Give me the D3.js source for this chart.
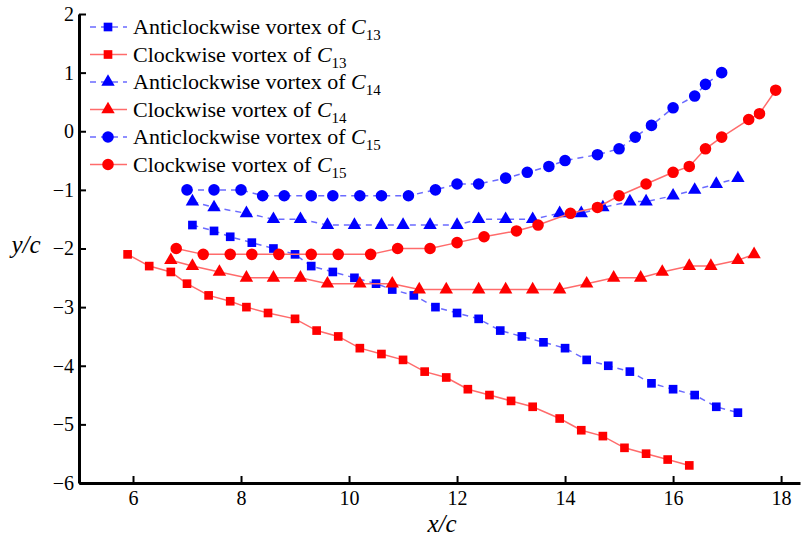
<!DOCTYPE html>
<html>
<head>
<meta charset="utf-8">
<script src="https://cdn.jsdelivr.net/npm/d3@7"></script>
<style>
  body { margin: 0; background: #fff; }
  svg text { font-family: "Liberation Serif", "Times New Roman", serif; }
</style>
</head>
<body>
<div class="canvas"></div>
<script>
// values
const acwC13X = [7.1,7.5,7.8,8.2,8.6,9.0,9.3,9.7,10.1,10.5,10.8,11.2,11.6,12.0,12.4,12.8,13.2,13.6,14.0,14.4,14.8,15.2,15.6,16.0,16.4,16.8,17.2];
const acwC13Y = [-1.6,-1.7,-1.8,-1.9,-2.0,-2.1,-2.3,-2.4,-2.5,-2.6,-2.7,-2.8,-3.0,-3.1,-3.2,-3.4,-3.5,-3.6,-3.7,-3.9,-4.0,-4.1,-4.3,-4.4,-4.5,-4.7,-4.8];

const cwC13X = [5.9,6.3,6.7,7.0,7.4,7.8,8.1,8.5,9.0,9.4,9.8,10.2,10.6,11.0,11.4,11.8,12.2,12.6,13.0,13.4,13.9,14.3,14.7,15.1,15.5,15.9,16.3];
const cwC13Y = [-2.1,-2.3,-2.4,-2.6,-2.8,-2.9,-3.0,-3.1,-3.2,-3.4,-3.5,-3.7,-3.8,-3.9,-4.1,-4.2,-4.4,-4.5,-4.6,-4.7,-4.9,-5.1,-5.2,-5.4,-5.5,-5.6,-5.7];

const acwC14X = [7.1,7.5,8.1,8.6,9.1,9.6,10.1,10.6,11.0,11.5,12.0,12.4,12.9,13.4,13.9,14.3,14.7,15.2,15.5,16.0,16.4,16.8,17.2];
const acwC14Y = [-1.2,-1.3,-1.4,-1.5,-1.5,-1.6,-1.6,-1.6,-1.6,-1.6,-1.6,-1.5,-1.5,-1.5,-1.4,-1.4,-1.3,-1.2,-1.2,-1.1,-1.0,-0.9,-0.8];

const cwC14X = [6.7,7.1,7.6,8.1,8.6,9.1,9.6,10.2,10.8,11.3,11.8,12.4,12.9,13.4,13.9,14.4,14.9,15.4,15.8,16.3,16.7,17.2,17.5];
const cwC14Y = [-2.2,-2.3,-2.4,-2.5,-2.5,-2.5,-2.6,-2.6,-2.6,-2.7,-2.7,-2.7,-2.7,-2.7,-2.7,-2.6,-2.5,-2.5,-2.4,-2.3,-2.3,-2.2,-2.1];

const acwC15X = [7.0,7.5,8.0,8.4,8.8,9.3,9.7,10.2,10.6,11.1,11.6,12.0,12.4,12.9,13.3,13.7,14.0,14.6,15.0,15.3,15.6,16.0,16.4,16.6,16.9];
const acwC15Y = [-1.0,-1.0,-1.0,-1.1,-1.1,-1.1,-1.1,-1.1,-1.1,-1.1,-1.0,-0.9,-0.9,-0.8,-0.7,-0.6,-0.5,-0.4,-0.3,-0.1,0.1,0.4,0.6,0.8,1.0];

const cwC15X = [6.8,7.3,7.8,8.2,8.7,9.3,9.8,10.4,10.9,11.5,12.0,12.5,13.1,13.5,14.1,14.6,15.0,15.5,16.0,16.3,16.6,16.9,17.4,17.6,17.9];
const cwC15Y = [-2.0,-2.1,-2.1,-2.1,-2.1,-2.1,-2.1,-2.1,-2.0,-2.0,-1.9,-1.8,-1.7,-1.6,-1.4,-1.3,-1.1,-0.9,-0.7,-0.6,-0.3,-0.1,0.2,0.3,0.7];

const xTicks = [6, 8, 10, 12, 14, 16, 18];
const yTicks = [-6, -5, -4, -3, -2, -1, 0, 1, 2];

const series = [
  {name: 'Anticlockwise vortex of ', sub: '13', xs: acwC13X, ys: acwC13Y, kind: 'acw', shape: d3.symbolSquare},
  {name: 'Clockwise vortex of ', sub: '13', xs: cwC13X, ys: cwC13Y, kind: 'cw', shape: d3.symbolSquare},
  {name: 'Anticlockwise vortex of ', sub: '14', xs: acwC14X, ys: acwC14Y, kind: 'acw', shape: d3.symbolTriangle},
  {name: 'Clockwise vortex of ', sub: '14', xs: cwC14X, ys: cwC14Y, kind: 'cw', shape: d3.symbolTriangle},
  {name: 'Anticlockwise vortex of ', sub: '15', xs: acwC15X, ys: acwC15Y, kind: 'acw', shape: d3.symbolCircle},
  {name: 'Clockwise vortex of ', sub: '15', xs: cwC15X, ys: cwC15Y, kind: 'cw', shape: d3.symbolCircle},
];

const styles = {
  acw: {line: '#6b6bff', fill: '#0000ff', dash: '6,5'},
  cw: {line: '#ff6b6b', fill: '#ff0000', dash: null}
};
const symSize = s => s === d3.symbolCircle ? 105 : (s === d3.symbolSquare ? 75 : 78);

const svg = d3.select('.canvas')
  .append('svg')
  .attr('width', 804)
  .attr('height', 537);

const x = d3.scaleLinear().domain([5, 18.35]).range([79, 800]);
const y = d3.scaleLinear().domain([-6, 2]).range([483, 14]);

// series
const line = d3.line().x(d => x(d[0])).y(d => y(d[1]));

series.forEach(s => {
  const pts = s.xs.map((v, i) => [v, s.ys[i]]);
  const st = styles[s.kind];
  svg.append('path')
    .attr('d', line(pts))
    .attr('fill', 'none')
    .attr('stroke', st.line)
    .attr('stroke-width', 1.5)
    .attr('stroke-dasharray', st.dash);
  svg.append('g').selectAll('path')
    .data(pts)
    .enter().append('path')
    .attr('transform', d => `translate(${x(d[0])},${y(d[1])})`)
    .attr('d', d3.symbol().type(s.shape).size(symSize(s.shape)))
    .attr('fill', st.fill);
});

// axes
const xAxis = d3.axisBottom(x).tickValues(xTicks).tickSizeInner(-7).tickSizeOuter(0).tickPadding(8);
const yAxis = d3.axisLeft(y).tickValues(yTicks).tickSizeInner(-7).tickSizeOuter(0).tickPadding(5);

const xg = svg.append('g').attr('transform', `translate(0,${y(-6)})`).call(xAxis);
const yg = svg.append('g').attr('transform', `translate(${x(5)},0)`).call(yAxis);

[xg, yg].forEach(g => {
  g.select('.domain').attr('stroke', '#000').attr('stroke-width', 3);
  g.selectAll('.tick line').attr('stroke', '#000').attr('stroke-width', 2);
  g.selectAll('.tick text').attr('font-size', 20).attr('fill', '#000');
});

// axis titles
svg.append('text')
  .attr('x', 442).attr('y', 532)
  .attr('text-anchor', 'middle')
  .attr('font-size', 25).attr('font-style', 'italic')
  .text('x/c');

svg.append('text')
  .attr('x', 26).attr('y', 253)
  .attr('text-anchor', 'middle')
  .attr('font-size', 25).attr('font-style', 'italic')
  .text('y/c');

// legend
const legend = svg.append('g');
series.forEach((s, i) => {
  const st = styles[s.kind];
  const ly = 27 + i * 27.5;
  legend.append('line')
    .attr('x1', 90).attr('x2', 127)
    .attr('y1', ly).attr('y2', ly)
    .attr('stroke', st.line).attr('stroke-width', 1.5)
    .attr('stroke-dasharray', st.dash);
  legend.append('path')
    .attr('transform', `translate(108,${ly})`)
    .attr('d', d3.symbol().type(s.shape).size(symSize(s.shape)))
    .attr('fill', st.fill);
  const t = legend.append('text')
    .attr('x', 133).attr('y', ly + 7)
    .attr('font-size', 22);
  t.append('tspan').text(s.name);
  t.append('tspan').attr('font-style', 'italic').text('C');
  t.append('tspan').attr('font-size', 15).attr('dy', 6).text(s.sub);
});
</script>
</body>
</html>
